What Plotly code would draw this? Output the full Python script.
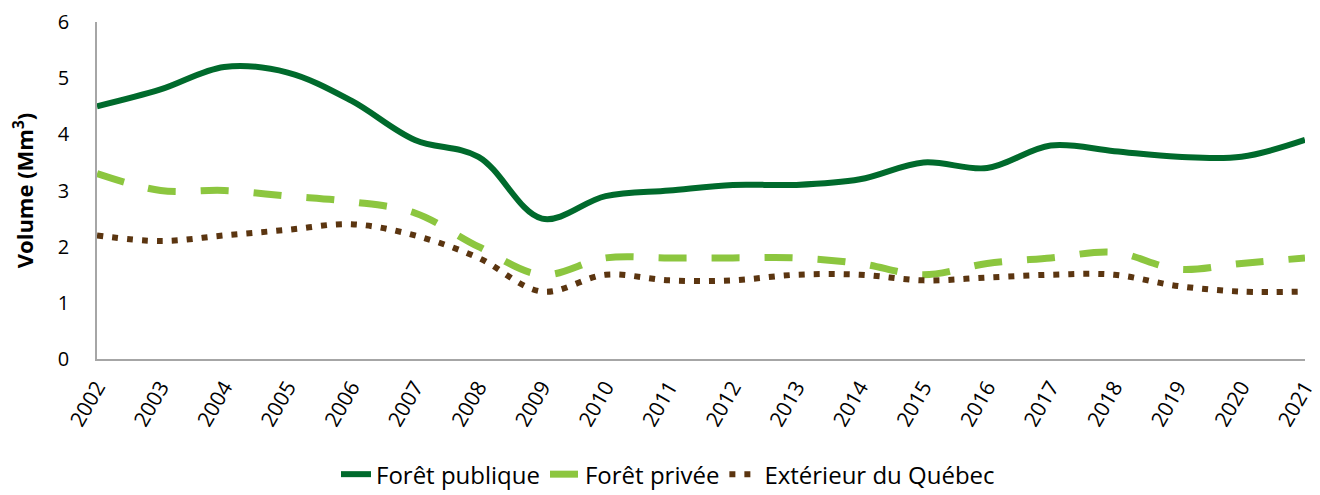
import plotly.graph_objects as go

years = [str(y) for y in range(2002, 2022)]
foret_publique = [4.5, 4.8, 5.2, 5.1, 4.6, 3.9, 3.6, 2.5, 2.9, 3.0, 3.1, 3.1, 3.2, 3.5, 3.4, 3.8, 3.7, 3.6, 3.6, 3.9]
foret_privee = [3.3, 3.0, 3.0, 2.9, 2.8, 2.6, 2.0, 1.5, 1.8, 1.8, 1.8, 1.8, 1.7, 1.5, 1.7, 1.8, 1.9, 1.6, 1.7, 1.8]
exterieur = [2.2, 2.1, 2.2, 2.3, 2.4, 2.2, 1.8, 1.2, 1.5, 1.4, 1.4, 1.5, 1.5, 1.4, 1.45, 1.5, 1.5, 1.3, 1.2, 1.2]
y_ticks = [0, 1, 2, 3, 4, 5, 6]

fig = go.Figure()
fig.add_trace(go.Scatter(x=years, y=foret_publique, mode="lines", name="Forêt publique",
                         line=dict(color="#006a2c", width=6, shape="spline", smoothing=1.0)))
fig.add_trace(go.Scatter(x=years, y=foret_privee, mode="lines", name="Forêt privée",
                         line=dict(color="#8cc63f", width=7, shape="spline", smoothing=1.0, dash="28px,25px")))
fig.add_trace(go.Scatter(x=years, y=exterieur, mode="lines", name="Extérieur du Québec",
                         line=dict(color="#5b3510", width=6, shape="spline", smoothing=1.0, dash="6px,9px")))

fig.update_layout(
    width=1320, height=495,
    margin=dict(l=89, r=23, t=14, b=144, autoexpand=False),
    paper_bgcolor="white", plot_bgcolor="white",
    font=dict(family="Open Sans, Noto Sans, sans-serif", size=19, color="#000000"),
    showlegend=True,
    legend=dict(orientation="h", x=0.5, xref="container", xanchor="center",
                y=0.012, yref="container", yanchor="bottom",
                font=dict(size=24), traceorder="normal"),
)
fig.update_xaxes(type="category", range=[0, len(years) - 1], tickangle=-60, automargin=False,
                 showline=True, linecolor="#a6a6a6", linewidth=1.5, showgrid=False,
                 ticks="", tickfont=dict(size=21), zeroline=False, ticklabelstandoff=6,
                 ticklabeloverflow="allow")
fig.update_yaxes(range=[0, 6], tickvals=y_ticks, showline=True, linecolor="#a6a6a6", linewidth=1.5,
                 showgrid=False, ticks="", tickfont=dict(size=20), zeroline=False, automargin=False,
                 ticklabelstandoff=22, ticklabeloverflow="allow",
                 title=dict(text="<b>Volume (Mm<sup>3</sup>)</b>", font=dict(size=22), standoff=18))

fig.write_html("out.html")
